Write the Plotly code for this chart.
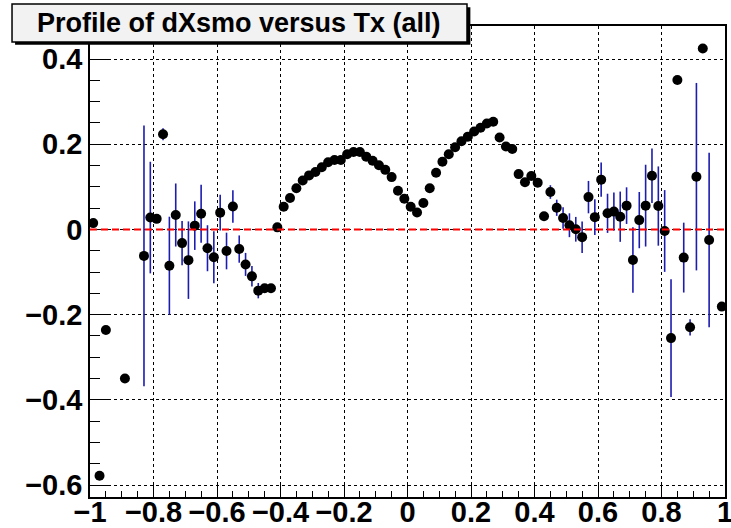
import plotly.graph_objects as go

# Bin centers (Tx), profile means (dXsmo) and errors
tx = [-0.99, -0.97, -0.95, -0.89, -0.83, -0.81, -0.79, -0.77, -0.75, -0.73,
      -0.71, -0.69, -0.67, -0.65, -0.63, -0.61, -0.59, -0.57, -0.55, -0.53,
      -0.51, -0.49, -0.47, -0.45, -0.43, -0.41, -0.39, -0.37, -0.35, -0.33,
      -0.31, -0.29, -0.27, -0.25, -0.23, -0.21, -0.19, -0.17, -0.15, -0.13,
      -0.11, -0.09, -0.07, -0.05, -0.03, -0.01, 0.01, 0.03, 0.05, 0.07,
      0.09, 0.11, 0.13, 0.15, 0.17, 0.19, 0.21, 0.23, 0.25, 0.27,
      0.29, 0.31, 0.33, 0.35, 0.37, 0.39, 0.41, 0.43, 0.45, 0.47,
      0.49, 0.51, 0.53, 0.55, 0.57, 0.59, 0.61, 0.63, 0.65, 0.67,
      0.69, 0.71, 0.73, 0.75, 0.77, 0.79, 0.81, 0.83, 0.85, 0.87,
      0.89, 0.91, 0.93, 0.95, 0.99]
dxsmo = [0.015, -0.578, -0.236, -0.350, -0.062, 0.028, 0.025, 0.2235, -0.085, 0.034,
         -0.032, -0.072, 0.009, 0.037, -0.044, -0.065, 0.0395, -0.0505, 0.054, -0.046,
         -0.082, -0.110, -0.1436, -0.138, -0.138, 0.005, 0.0535, 0.074, 0.097, 0.115,
         0.127, 0.135, 0.146, 0.158, 0.163, 0.163, 0.1765, 0.182, 0.182, 0.171,
         0.1615, 0.151, 0.140, 0.123, 0.091, 0.072, 0.0535, 0.040, 0.062, 0.097,
         0.133, 0.159, 0.1765, 0.193, 0.207, 0.218, 0.230, 0.239, 0.249, 0.253,
         0.216, 0.195, 0.189, 0.130, 0.111, 0.1256, 0.110, 0.031, 0.088, 0.051,
         0.027, 0.010, 0.0005, -0.018, 0.076, 0.029, 0.117, 0.038, 0.042, 0.030,
         0.056, -0.0716, 0.022, 0.056, 0.126, 0.055, -0.0035, -0.255, 0.351, -0.066,
         -0.2296, 0.124, 0.425, -0.0246, -0.181]
err = [0, 0, 0, 0, 0.306, 0.131, 0.005, 0.014, 0.115, 0.074,
       0.052, 0.091, 0.057, 0.068, 0.054, 0.061, 0.042, 0.043, 0.038, 0.032,
       0.027, 0.024, 0.018, 0.010, 0.006, 0.004, 0.003, 0.003, 0.003, 0.003,
       0.003, 0.003, 0.003, 0.003, 0.003, 0.003, 0.003, 0.003, 0.003, 0.003,
       0.003, 0.003, 0.003, 0.003, 0.003, 0.003, 0.003, 0.003, 0.003, 0.003,
       0.003, 0.003, 0.003, 0.003, 0.003, 0.003, 0.003, 0.003, 0.003, 0.003,
       0.003, 0.003, 0.003, 0.003, 0.003, 0.003, 0.003, 0.005, 0.016, 0.019,
       0.025, 0.028, 0.029, 0.037, 0.038, 0.042, 0.040, 0.046, 0.045, 0.059,
       0.043, 0.077, 0.066, 0.096, 0.064, 0.093, 0.096, 0.138, 0, 0.082,
       0.019, 0.22, 0, 0.205, 0]

title_text = "Profile of dXsmo versus Tx (all)"
FONT = "Liberation Sans"

fig = go.Figure()
fig.add_trace(go.Scatter(
    x=tx, y=dxsmo, mode="markers",
    marker=dict(color="black", size=10, line=dict(width=0)),
    error_y=dict(type="data", array=err, visible=True, width=0,
                 thickness=1.6, color="#1c1cb0"),
    showlegend=False, hoverinfo="skip",
))

# red dashed reference line at zero
fig.add_shape(type="line", xref="x", yref="y", x0=-1, x1=1, y0=0, y1=0,
              line=dict(color="#ff0000", width=2.2, dash="7px,4px"), layer="above")

# title box with shadow (paper coordinates)
fig.add_shape(type="rect", xref="paper", yref="paper",
              x0=-0.118, x1=0.599, y0=0.960, y1=1.040,
              fillcolor="black", line=dict(width=0), layer="above")
fig.add_shape(type="rect", xref="paper", yref="paper",
              x0=-0.1228, x1=0.5937, y0=0.966, y1=1.0467,
              fillcolor="#f2f2f2", line=dict(color="black", width=1.5), layer="above")
fig.add_annotation(text=title_text, xref="paper", yref="paper",
                   x=0.2354, y=1.0064, showarrow=False,
                   xanchor="center", yanchor="middle",
                   font=dict(family=FONT, size=27, color="black", weight="bold"))

axis_common = dict(
    showline=True, linecolor="black", linewidth=1.5, mirror=True,
    showgrid=True, gridcolor="black", gridwidth=1, griddash="dot",
    zeroline=False, ticks="inside", tickcolor="black", tickwidth=1,
    tickfont=dict(family=FONT, size=29, color="black", weight="bold"),
    tick0=0, dtick=0.2, automargin=False, ticklabeloverflow="allow",
)

fig.update_xaxes(range=[-1, 1], ticklen=12, ticklabelstandoff=-12,
                 minor=dict(dtick=0.05, tick0=0, ticks="inside", ticklen=6,
                            tickcolor="black", showgrid=False),
                 **axis_common)
fig.update_yaxes(range=[-0.628, 0.4777], ticklen=20,
                 minor=dict(dtick=0.05, tick0=0, ticks="inside", ticklen=10,
                            tickcolor="black", showgrid=False),
                 **axis_common)

fig.update_layout(
    width=731, height=528,
    margin=dict(l=90, r=6, t=26, b=31),
    paper_bgcolor="white", plot_bgcolor="white",
    font=dict(family=FONT, color="black"),
)

fig.write_html("out.html")
